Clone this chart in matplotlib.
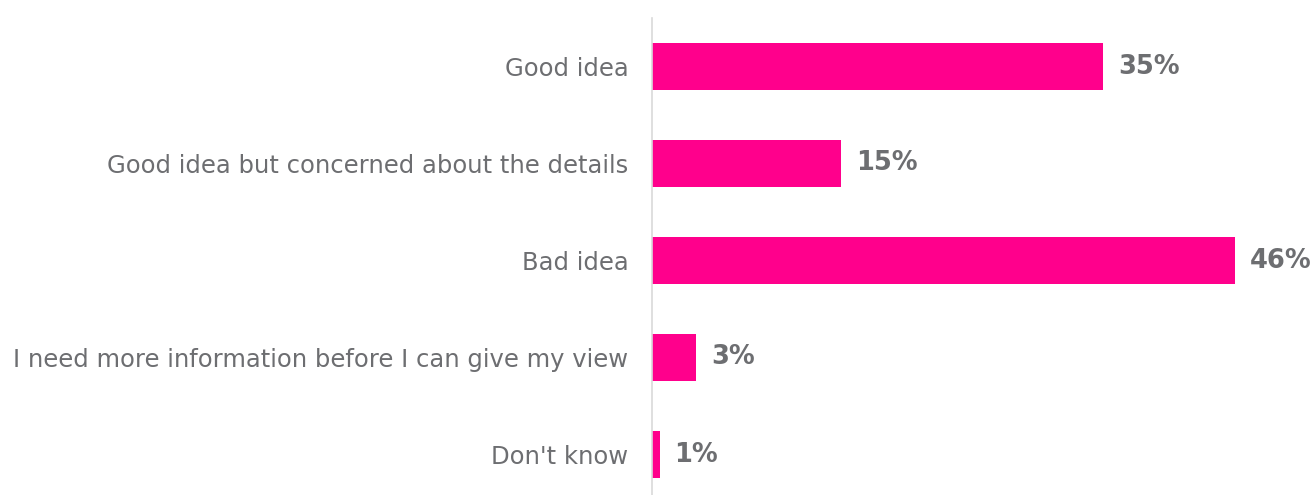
import matplotlib.pyplot as plt

categories = [
    "Good idea",
    "Good idea but concerned about the details",
    "Bad idea",
    "I need more information before I can give my view",
    "Don't know",
]
values = [35.6, 14.9, 46.0, 3.5, 0.6]
value_labels = ["35%", "15%", "46%", "3%", "1%"]

bar_color = "#FF008C"
text_color = "#6D6E71"

fig = plt.figure(figsize=(13.14, 4.95), dpi=100)
ax = fig.add_axes([652 / 1314, -8 / 495, 662 / 1314, 485 / 495])

y = list(range(len(categories)))
ax.barh(y, values, height=0.485, color=bar_color)
ax.set_ylim(4.5, -0.5)
ax.set_xlim(0, 662 / 12.67)

for yi, v, lab in zip(y, values, value_labels):
    ax.annotate(lab, (v, yi), xytext=(15, 0), textcoords="offset pixels",
                ha="left", va="center", fontsize=18.5, fontweight="bold",
                color=text_color)

ax.set_yticks(y)
ax.set_yticklabels(categories, fontsize=17.5, color=text_color)
ax.tick_params(axis="y", length=0, pad=17)
ax.set_xticks([])
for s in ["top", "right", "bottom"]:
    ax.spines[s].set_visible(False)
ax.spines["left"].set_color("#D9D9D9")
ax.spines["left"].set_linewidth(1.2)

fig.savefig("out.png", dpi=100)
